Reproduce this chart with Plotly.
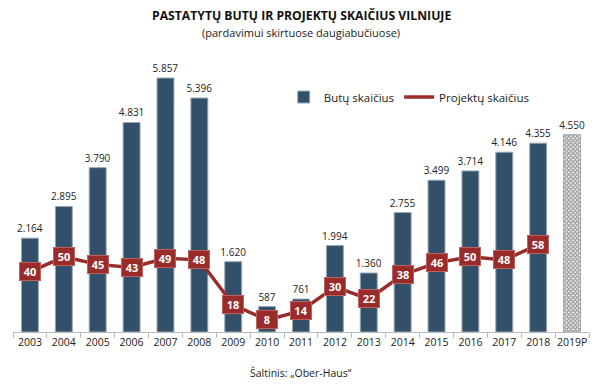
import plotly.graph_objects as go

years = ["2003", "2004", "2005", "2006", "2007", "2008", "2009", "2010", "2011",
         "2012", "2013", "2014", "2015", "2016", "2017", "2018", "2019P"]
butai = [2164, 2895, 3790, 4831, 5857, 5396, 1620, 587, 761,
         1994, 1360, 2755, 3499, 3714, 4146, 4355, 4550]
projektai = [40, 50, 45, 43, 49, 48, 18, 8, 14, 30, 22, 38, 46, 50, 48, 58]

BAR = "#33506a"
RED = "#9a2b2b"
FONT = "Open Sans"

bar_text = [f"{v:,}".replace(",", ".") for v in butai]

fig = go.Figure()
fig.add_trace(go.Bar(
    x=years, y=butai, name="Butų skaičius",
    marker=dict(
        color=[BAR] * 16 + ["white"],
        line=dict(color="#9aa7b3", width=1),
        pattern=dict(shape=[""] * 16 + ["x"], fgcolor=BAR, bgcolor="white",
                     size=3, solidity=0.7),
    ),
    width=0.5,
    text=bar_text, textposition="outside", cliponaxis=False, constraintext="none",
    textfont=dict(size=10, color="#222", family=FONT),
))
fig.add_trace(go.Scatter(
    x=years[:16], y=projektai, name="Projektų skaičius", yaxis="y2",
    mode="lines", line=dict(color=RED, width=3.5),
))

anns = []
for i, v in enumerate(projektai):
    anns.append(dict(
        x=i, y=v, xref="x", yref="y2", text=f"<b>{v}</b>", showarrow=False,
        font=dict(size=11, color="white", family=FONT),
        bgcolor=RED, bordercolor="#c0605e", borderwidth=1, borderpad=1,
        width=18,
    ))

PT = 60
PH = 272
def py(pix):
    return 1 + (PT - pix) / PH

anns += [
    dict(x=0.5, xref="paper", y=py(16), yref="paper", yanchor="middle",
         text="<b>PASTATYTŲ BUTŲ IR PROJEKTŲ SKAIČIUS VILNIUJE</b>", showarrow=False,
         font=dict(size=12.2, color="#111")),
    dict(x=0.5, xref="paper", y=py(33), yref="paper", yanchor="middle",
         text="(pardavimui skirtuose daugiabučiuose)", showarrow=False,
         font=dict(size=11, color="#222")),
    dict(x=0.5, xref="paper", y=py(373), yref="paper", yanchor="middle",
         text="Šaltinis: „Ober-Haus“", showarrow=False,
         font=dict(size=10.5, color="#222")),
]

fig.update_layout(
    width=600, height=391,
    margin=dict(l=13, r=11, t=PT, b=391 - PT - PH),
    paper_bgcolor="white", plot_bgcolor="white",
    font=dict(family=FONT, color="#222"),
    showlegend=True,
    legend=dict(orientation="h", x=0.47, y=py(97), xanchor="left", yanchor="middle",
                font=dict(size=11.5, color="#222"), itemwidth=30, bgcolor="rgba(0,0,0,0)"),
    xaxis=dict(type="category", range=[-0.5, 16.5], showline=True, linecolor="#bbbbbb",
               linewidth=1, ticks="outside", tickson="boundaries", ticklen=5,
               tickcolor="#bbbbbb", tickangle=0, automargin=False,
               tickfont=dict(size=10.5, color="#222"), showgrid=False),
    yaxis=dict(range=[0, 6272], visible=False, showgrid=False),
    yaxis2=dict(range=[0, 181], overlaying="y", visible=False, showgrid=False),
    annotations=anns,
)

fig.write_html("out.html", config={"displayModeBar": False},
               post_script="document.body.style.margin='0';")
